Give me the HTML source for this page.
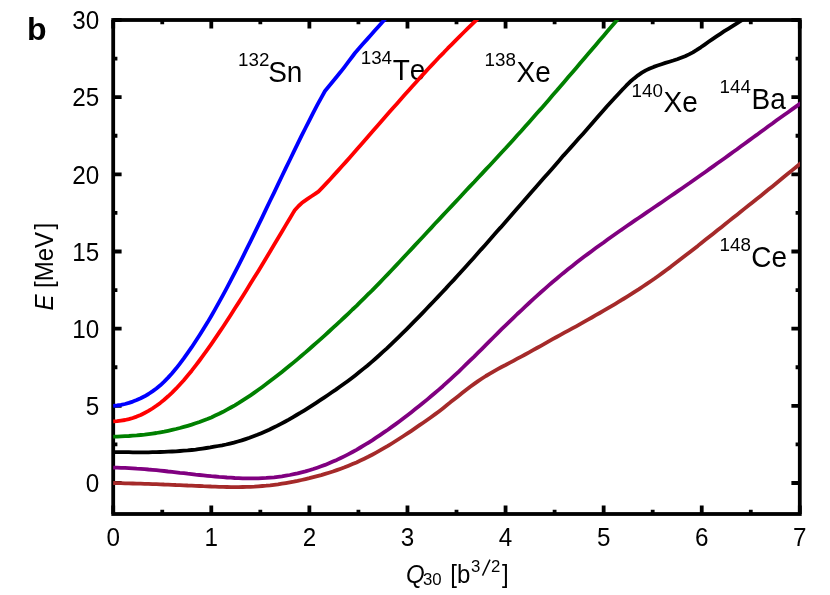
<!DOCTYPE html>
<html><head><meta charset="utf-8"><title>b</title>
<style>
html,body{margin:0;padding:0;background:#fff;}
body{width:830px;height:595px;overflow:hidden;font-family:"Liberation Sans",sans-serif;}
svg{display:block;}
text{font-family:"Liberation Sans",sans-serif;fill:#000;font-kerning:none;}
.t{font-size:24px;}
.s{font-size:16.8px;}
.l{font-size:28px;}
.ls{font-size:18.8px;}
</style></head><body>
<svg width="830" height="595" viewBox="0 0 830 595">
<rect x="0" y="0" width="830" height="595" fill="#ffffff"/>
<defs><clipPath id="c"><rect x="113.2" y="20.0" width="686.6" height="494.0"/></clipPath></defs>

<rect x="113.2" y="20.0" width="686.6" height="494.0" fill="none" stroke="#000" stroke-width="3.8" stroke-linejoin="miter"/>
<path d="M113.20 514.00V505.60M113.20 20.00V28.40M162.25 514.00V509.80M162.25 20.00V24.20M211.29 514.00V505.60M211.29 20.00V28.40M260.33 514.00V509.80M260.33 20.00V24.20M309.38 514.00V505.60M309.38 20.00V28.40M358.43 514.00V509.80M358.43 20.00V24.20M407.47 514.00V505.60M407.47 20.00V28.40M456.51 514.00V509.80M456.51 20.00V24.20M505.56 514.00V505.60M505.56 20.00V28.40M554.61 514.00V509.80M554.61 20.00V24.20M603.65 514.00V505.60M603.65 20.00V28.40M652.70 514.00V509.80M652.70 20.00V24.20M701.74 514.00V505.60M701.74 20.00V28.40M750.79 514.00V509.80M750.79 20.00V24.20M799.83 514.00V505.60M799.83 20.00V28.40M113.20 483.00H121.60M799.80 483.00H791.40M113.20 444.42H117.40M799.80 444.42H795.60M113.20 405.84H121.60M799.80 405.84H791.40M113.20 367.25H117.40M799.80 367.25H795.60M113.20 328.67H121.60M799.80 328.67H791.40M113.20 290.09H117.40M799.80 290.09H795.60M113.20 251.50H121.60M799.80 251.50H791.40M113.20 212.92H117.40M799.80 212.92H795.60M113.20 174.34H121.60M799.80 174.34H791.40M113.20 135.76H117.40M799.80 135.76H795.60M113.20 97.18H121.60M799.80 97.18H791.40M113.20 58.59H117.40M799.80 58.59H795.60M113.20 20.01H121.60M799.80 20.01H791.40" stroke="#000" stroke-width="3.8" fill="none"/>
<g style="opacity:0.999">
<text class="t" transform="translate(113.20 546.00) scale(1.010 1.070)" text-anchor="middle">0</text>
<text class="t" transform="translate(211.29 546.00) scale(1.010 1.070)" text-anchor="middle">1</text>
<text class="t" transform="translate(309.38 546.00) scale(1.010 1.070)" text-anchor="middle">2</text>
<text class="t" transform="translate(407.47 546.00) scale(1.010 1.070)" text-anchor="middle">3</text>
<text class="t" transform="translate(505.56 546.00) scale(1.010 1.070)" text-anchor="middle">4</text>
<text class="t" transform="translate(603.65 546.00) scale(1.010 1.070)" text-anchor="middle">5</text>
<text class="t" transform="translate(701.74 546.00) scale(1.010 1.070)" text-anchor="middle">6</text>
<text class="t" transform="translate(799.83 546.00) scale(1.010 1.070)" text-anchor="middle">7</text>
<text class="t" transform="translate(99.30 492.20) scale(1.010 1.070)" text-anchor="end">0</text>
<text class="t" transform="translate(99.30 415.04) scale(1.010 1.070)" text-anchor="end">5</text>
<text class="t" transform="translate(99.30 337.87) scale(1.010 1.070)" text-anchor="end">10</text>
<text class="t" transform="translate(99.30 260.70) scale(1.010 1.070)" text-anchor="end">15</text>
<text class="t" transform="translate(99.30 183.54) scale(1.010 1.070)" text-anchor="end">20</text>
<text class="t" transform="translate(99.30 106.38) scale(1.010 1.070)" text-anchor="end">25</text>
<text class="t" transform="translate(99.30 29.21) scale(1.010 1.070)" text-anchor="end">30</text>
<text x="27" y="40" font-size="32" font-weight="bold">b</text>
<text class="t" transform="translate(52.8 310.6) rotate(-90) scale(1 1.070)"><tspan font-style="italic">E</tspan> [MeV</text>
<text class="t" transform="translate(52.8 229.6) rotate(-90) scale(1 1.070)">]</text>
<text class="t" transform="translate(406.00 582.90) scale(1.000 1.070)" font-style="italic">Q</text>
<text class="s" transform="translate(423.00 584.80) scale(1.000 1.000)">30</text>
<text class="t" transform="translate(450.30 582.90) scale(1.000 1.070)">[b</text>
<text class="s" transform="translate(471.00 571.50) scale(1.000 1.000)">3</text>
<path d="M482.5 575.6L490 559.6" stroke="#000" stroke-width="1.5" fill="none"/>
<text class="s" transform="translate(491.00 571.50) scale(1.000 1.000)">2</text>
<text class="t" transform="translate(502.00 582.90) scale(1.000 1.070)">]</text>
<text class="ls" transform="translate(238.00 66.30) scale(1.000 1.000)">132</text>
<text class="l" transform="translate(268.20 82.00) scale(1.000 1.070)">Sn</text>
<text class="ls" transform="translate(360.70 64.20) scale(1.000 1.000)">134</text>
<text class="l" transform="translate(392.70 79.90) scale(1.000 1.070)">Te</text>
<text class="ls" transform="translate(484.50 66.00) scale(1.000 1.000)">138</text>
<text class="l" transform="translate(516.50 81.70) scale(1.000 1.070)">Xe</text>
<text class="ls" transform="translate(631.60 96.60) scale(1.000 1.000)">140</text>
<text class="l" transform="translate(663.50 112.30) scale(1.000 1.070)">Xe</text>
<text class="ls" transform="translate(719.60 93.30) scale(1.000 1.000)">144</text>
<text class="l" transform="translate(751.50 109.00) scale(1.000 1.070)">Ba</text>
<text class="ls" transform="translate(719.60 251.20) scale(1.000 1.000)">148</text>
<text class="l" transform="translate(751.20 266.90) scale(1.000 1.070)">Ce</text>
</g>
<g clip-path="url(#c)" fill="none" stroke-width="3.8" stroke-linejoin="round" stroke-linecap="butt">
<path d="M113.2 405.8L117.1 405.5L121.0 404.9L125.0 404.0L128.9 402.9L132.8 401.6L136.7 400.1L140.7 398.3L144.6 396.3L148.5 394.0L152.4 391.4L156.4 388.5L160.3 385.3L164.2 381.6L168.1 377.6L172.1 373.2L176.0 368.6L179.9 363.6L183.8 358.4L187.7 352.9L191.7 347.2L195.6 341.3L199.5 335.3L203.4 329.0L207.4 322.6L211.3 316.0L215.2 309.1L219.1 302.1L223.1 294.9L227.0 287.6L230.9 280.2L234.8 272.6L238.8 264.9L242.7 257.1L246.6 249.2L250.5 241.3L254.4 233.3L258.4 225.2L262.3 217.1L266.2 208.9L270.1 200.8L274.1 192.6L278.0 184.4L281.9 176.2L285.8 168.1L289.8 160.0L293.7 151.9L297.6 143.9L301.5 135.9L305.5 128.0L309.4 120.3L313.3 112.6L317.2 105.1L321.2 97.8L325.0 91.0L325.0 91.0L328.9 86.3L332.8 81.5L336.7 76.7L340.7 71.8L344.6 66.8L348.5 61.7L352.4 56.5L355.0 53.0L355.0 53.0L358.9 48.5L362.8 44.0L366.8 39.6L370.7 35.2L374.6 30.8L378.5 26.4L382.5 22.0L386.4 17.7L390.3 13.3L394.2 9.0L397.7 5.2" stroke="#0000ff"/>
<path d="M113.2 421.3L117.1 421.1L121.0 420.6L125.0 420.0L128.9 419.1L132.8 418.0L136.7 416.6L140.7 415.0L144.6 413.0L148.5 410.9L152.4 408.5L156.4 405.8L160.3 402.9L164.2 399.7L168.1 396.3L172.1 392.6L176.0 388.7L179.9 384.5L183.8 380.2L187.7 375.6L191.7 370.7L195.6 365.7L199.5 360.5L203.4 355.2L207.4 349.7L211.3 344.1L215.2 338.4L219.1 332.6L223.1 326.7L227.0 320.7L230.9 314.7L234.8 308.6L238.8 302.4L242.7 296.2L246.6 290.0L250.5 283.6L254.4 277.3L258.4 270.9L262.3 264.4L266.2 257.9L270.1 251.4L274.1 244.8L278.0 238.2L281.9 231.7L285.8 225.1L289.8 218.5L293.7 211.9L294.7 210.3L294.7 210.3L298.6 206.0L302.5 202.4L303.3 201.8L303.3 201.8L307.2 199.2L311.1 196.5L315.1 193.9L318.4 191.6L318.4 191.6L322.3 187.6L326.3 183.4L330.2 179.2L334.1 174.9L338.0 170.6L341.9 166.3L345.9 161.9L349.8 157.5L353.7 153.1L357.6 148.6L361.6 144.1L365.5 139.6L369.4 135.1L373.3 130.6L377.3 126.1L381.2 121.6L385.1 117.1L389.0 112.6L393.0 108.1L396.9 103.7L400.8 99.2L404.7 94.8L408.6 90.4L412.6 86.0L416.5 81.7L420.4 77.3L424.3 73.1L428.3 68.8L432.2 64.6L436.1 60.5L440.0 56.3L444.0 52.3L447.9 48.2L451.8 44.3L455.7 40.3L459.7 36.4L463.6 32.5L467.5 28.7L471.4 24.8L475.3 21.1L479.3 17.3L483.2 13.5L487.1 9.8L490.8 6.1" stroke="#ff0000"/>
<path d="M113.2 436.7L117.1 436.6L121.0 436.4L125.0 436.2L128.9 436.0L132.8 435.7L136.7 435.4L140.7 435.0L144.6 434.6L148.5 434.1L152.4 433.6L156.4 433.0L160.3 432.3L164.2 431.6L168.1 430.8L172.1 429.9L176.0 429.0L179.9 428.0L183.8 426.9L187.7 425.8L191.7 424.6L195.6 423.3L199.5 422.0L203.4 420.5L207.4 419.0L211.3 417.4L215.2 415.6L219.1 413.8L223.1 411.8L227.0 409.7L230.9 407.5L234.8 405.3L238.8 402.9L242.7 400.4L246.6 397.9L250.5 395.3L254.4 392.6L258.4 389.8L262.3 387.0L266.2 384.1L270.1 381.1L274.1 378.1L278.0 375.1L281.9 372.0L285.8 368.8L289.8 365.6L293.7 362.4L297.6 359.1L301.5 355.7L305.5 352.4L309.4 349.0L313.3 345.5L317.2 342.1L321.2 338.6L325.1 335.1L329.0 331.5L332.9 327.9L336.8 324.3L340.8 320.7L344.7 317.0L348.6 313.3L352.5 309.5L356.5 305.8L360.4 301.9L364.3 298.1L368.2 294.2L372.2 290.3L376.1 286.3L380.0 282.3L383.9 278.2L387.9 274.1L391.8 270.0L395.7 265.9L399.6 261.7L403.5 257.5L407.5 253.3L411.4 249.1L415.3 244.9L419.2 240.7L423.2 236.5L427.1 232.3L431.0 228.1L434.9 223.8L438.9 219.6L442.8 215.4L446.7 211.2L450.6 207.1L454.6 202.9L458.5 198.7L462.4 194.5L466.3 190.3L470.2 186.1L474.2 182.0L478.1 177.8L482.0 173.6L485.9 169.4L489.9 165.2L493.8 161.0L497.7 156.8L501.6 152.5L505.6 148.3L509.5 144.0L513.4 139.7L517.3 135.3L521.3 131.0L525.2 126.6L529.1 122.2L533.0 117.8L536.9 113.3L540.9 108.9L544.8 104.4L548.7 99.9L552.6 95.3L556.6 90.8L560.5 86.2L564.4 81.7L568.3 77.1L572.3 72.5L576.2 67.9L580.1 63.3L584.0 58.7L588.0 54.1L591.9 49.5L595.8 44.9L599.7 40.3L603.7 35.7L607.6 31.1L611.5 26.5L615.4 22.0L619.3 17.4L623.3 12.8L627.2 8.3L631.1 3.7L633.1 1.5" stroke="#008000"/>
<path d="M113.2 452.1L117.1 452.1L121.0 452.2L125.0 452.2L128.9 452.2L132.8 452.3L136.7 452.3L140.7 452.3L144.6 452.3L148.5 452.3L152.4 452.2L156.4 452.1L160.3 452.0L164.2 451.9L168.1 451.7L172.1 451.5L176.0 451.3L179.9 451.0L183.8 450.7L187.7 450.4L191.7 450.0L195.6 449.6L198.5 449.2L198.5 449.2L202.5 448.6L206.4 448.0L210.3 447.4L214.2 446.7L218.2 446.0L222.1 445.3L226.0 444.5L229.9 443.6L233.9 442.6L237.8 441.5L241.7 440.4L245.6 439.1L249.5 437.8L253.5 436.3L257.4 434.8L261.3 433.2L265.2 431.5L269.2 429.7L273.1 427.8L277.0 425.9L280.9 423.8L284.9 421.7L288.8 419.6L292.7 417.3L296.6 415.0L300.6 412.7L304.5 410.3L308.4 407.8L312.3 405.3L316.2 402.8L320.2 400.2L324.1 397.6L328.0 395.0L331.9 392.3L335.9 389.6L339.8 386.8L343.7 384.0L347.6 381.2L351.6 378.2L355.5 375.2L359.4 372.1L363.3 368.9L367.3 365.7L371.2 362.4L375.1 359.0L379.0 355.5L382.9 351.9L386.9 348.3L390.8 344.6L394.7 340.9L398.6 337.1L402.6 333.2L406.5 329.3L410.4 325.3L414.3 321.4L418.3 317.3L422.2 313.3L426.1 309.2L430.0 305.2L434.0 301.0L437.9 296.9L441.8 292.7L445.7 288.6L449.6 284.3L453.6 280.1L457.5 275.8L461.4 271.5L465.3 267.2L469.3 262.8L473.2 258.5L477.1 254.1L481.0 249.6L485.0 245.2L488.9 240.8L492.8 236.3L496.7 231.8L500.7 227.4L504.6 222.9L508.5 218.4L512.4 213.9L516.3 209.5L520.3 205.0L524.2 200.5L528.1 196.0L532.0 191.6L536.0 187.1L539.9 182.6L543.8 178.1L547.7 173.7L551.7 169.2L555.6 164.7L559.5 160.2L563.4 155.6L567.4 151.2L571.3 146.9L575.2 142.5L579.1 138.1L583.1 133.7L587.0 129.3L590.9 124.8L594.8 120.3L598.7 115.8L602.7 111.3L606.6 106.8L610.5 102.5L614.4 98.3L618.4 94.0L622.3 89.8L626.2 85.7L630.1 81.8L634.1 78.4L638.0 75.3L641.9 72.7L645.8 70.4L649.8 68.5L653.7 66.9L657.6 65.5L661.5 64.2L665.4 62.9L669.4 61.7L673.3 60.5L677.2 59.2L681.1 57.8L685.1 56.3L689.0 54.4L692.9 52.3L696.8 49.9L700.8 47.3L704.7 44.6L708.6 41.8L712.5 39.1L716.5 36.4L720.4 33.8L724.3 31.2L728.2 28.8L732.1 26.3L736.1 23.8L740.0 21.4L743.9 19.0L747.8 16.6L751.8 14.3L755.7 12.0L759.6 9.8L760.6 9.2" stroke="#000000"/>
<path d="M113.2 467.6L117.1 467.7L121.0 467.8L125.0 467.9L128.9 468.1L132.8 468.3L136.7 468.6L140.7 468.8L144.6 469.1L148.5 469.5L152.4 469.8L156.4 470.2L160.3 470.6L164.2 471.0L168.1 471.5L172.1 471.9L176.0 472.3L179.9 472.8L183.8 473.2L187.7 473.7L191.7 474.1L195.6 474.6L199.5 475.0L203.4 475.4L207.4 475.8L211.3 476.2L215.2 476.5L219.1 476.9L223.1 477.2L227.0 477.5L230.9 477.7L234.8 478.0L238.8 478.1L242.7 478.3L246.6 478.4L250.5 478.4L254.4 478.4L258.4 478.3L262.3 478.1L266.2 477.9L270.1 477.6L274.1 477.3L278.0 476.8L281.9 476.3L285.8 475.7L289.8 475.0L293.7 474.2L297.6 473.4L301.5 472.4L305.5 471.4L309.4 470.2L313.3 469.0L317.2 467.7L321.2 466.3L325.1 464.9L329.0 463.3L332.9 461.6L336.8 459.9L340.8 458.0L344.7 456.1L348.6 454.1L352.5 452.0L356.5 449.8L360.4 447.5L364.3 445.2L368.2 442.8L372.2 440.3L376.1 437.7L380.0 435.1L383.9 432.4L387.9 429.7L391.8 426.9L395.7 424.1L399.6 421.2L403.5 418.2L407.5 415.2L411.4 412.2L415.3 409.1L419.2 406.0L423.2 402.8L427.1 399.6L431.0 396.3L434.9 393.0L438.9 389.6L442.8 386.2L446.7 382.6L450.6 379.1L454.6 375.4L458.5 371.8L462.4 368.0L466.3 364.2L470.2 360.4L474.2 356.6L478.1 352.7L482.0 348.8L485.9 344.9L489.9 340.9L493.8 337.0L497.7 333.1L501.6 329.2L505.6 325.4L509.5 321.6L513.4 317.8L517.3 314.0L521.3 310.3L525.2 306.6L529.1 303.0L533.0 299.3L536.9 295.8L540.9 292.3L544.8 288.8L548.7 285.4L552.6 282.0L556.6 278.7L560.5 275.4L564.4 272.2L568.3 269.0L572.3 265.9L576.2 262.8L580.1 259.8L584.0 256.8L588.0 253.9L591.9 251.0L595.8 248.1L599.7 245.3L603.7 242.5L607.6 239.6L611.5 236.8L615.4 234.0L619.3 231.3L623.3 228.5L627.2 225.8L631.1 223.1L635.0 220.4L639.0 217.7L642.9 215.1L646.8 212.4L650.7 209.7L654.7 207.0L658.6 204.4L662.5 201.7L666.4 199.0L670.4 196.3L674.3 193.6L678.2 190.9L682.1 188.2L686.0 185.5L690.0 182.8L693.9 180.0L697.8 177.3L701.7 174.5L705.7 171.7L709.6 168.9L713.5 166.1L717.4 163.3L721.4 160.5L725.3 157.7L729.2 154.9L733.1 152.0L737.1 149.2L741.0 146.3L744.9 143.4L748.8 140.6L752.7 137.7L756.7 134.9L760.6 132.0L764.5 129.2L768.4 126.3L772.4 123.5L776.3 120.6L780.2 117.8L784.1 115.0L788.1 112.2L792.0 109.4L795.9 106.6L799.8 103.9L803.8 101.1L807.7 98.4L809.6 97.2" stroke="#800080"/>
<path d="M113.2 483.0L117.1 483.1L121.0 483.2L125.0 483.3L128.9 483.4L132.8 483.5L136.7 483.6L140.7 483.7L144.6 483.8L148.5 483.9L152.4 484.1L156.4 484.2L160.3 484.3L164.2 484.5L168.1 484.6L172.1 484.8L176.0 485.0L179.9 485.1L183.8 485.3L187.7 485.5L191.7 485.6L195.6 485.8L199.5 486.0L203.4 486.2L207.4 486.3L211.3 486.5L215.2 486.6L219.1 486.8L223.1 486.9L227.0 487.0L230.9 487.1L234.8 487.1L238.8 487.1L242.7 487.0L246.6 486.9L250.5 486.8L254.4 486.6L258.4 486.3L262.3 486.0L266.2 485.7L270.1 485.3L274.1 484.8L278.0 484.3L281.9 483.7L285.8 483.1L289.8 482.4L293.7 481.7L297.6 480.9L301.5 480.0L305.5 479.1L309.4 478.2L313.3 477.2L317.2 476.2L321.2 475.1L325.1 473.9L329.0 472.7L332.9 471.5L336.8 470.1L340.8 468.7L344.7 467.3L348.6 465.7L352.5 464.1L356.5 462.4L360.4 460.6L364.3 458.7L368.2 456.8L372.2 454.7L376.1 452.6L380.0 450.4L383.9 448.2L387.9 445.9L391.8 443.5L395.7 441.0L399.6 438.5L403.5 436.0L407.5 433.4L411.4 430.8L415.3 428.1L419.2 425.4L423.2 422.7L427.1 420.0L431.0 417.2L434.9 414.4L438.9 411.4L442.8 408.4L446.7 405.3L450.6 402.1L454.6 399.0L458.5 395.9L462.4 392.8L466.3 389.8L470.2 386.8L474.2 383.9L478.1 381.1L482.0 378.5L485.9 376.0L489.9 373.6L493.8 371.3L497.7 369.1L501.6 367.0L505.6 365.0L509.5 362.9L513.4 360.8L517.3 358.7L521.3 356.6L525.2 354.5L529.1 352.4L533.0 350.2L536.9 348.0L540.9 345.8L544.8 343.6L548.7 341.4L552.6 339.2L556.6 337.0L560.5 334.9L564.4 332.7L568.3 330.6L572.3 328.4L576.2 326.3L580.1 324.1L584.0 321.9L588.0 319.7L591.9 317.5L595.8 315.2L599.7 313.0L603.7 310.7L607.6 308.4L611.5 306.1L615.4 303.8L619.3 301.4L623.3 299.0L627.2 296.6L631.1 294.2L635.0 291.6L639.0 289.1L642.9 286.5L646.8 283.9L650.7 281.2L654.7 278.5L658.6 275.7L662.5 272.9L666.4 270.0L670.4 267.1L674.3 264.1L678.2 261.1L682.1 258.1L686.0 255.1L690.0 252.0L693.9 248.9L697.8 245.9L701.7 242.7L705.7 239.6L709.6 236.5L713.5 233.4L717.4 230.3L721.4 227.2L725.3 224.1L729.2 220.9L733.1 217.8L737.1 214.7L741.0 211.6L744.9 208.4L748.8 205.3L752.7 202.2L756.7 199.0L760.6 195.9L764.5 192.7L768.4 189.6L772.4 186.4L776.3 183.2L780.2 180.0L784.1 176.8L788.1 173.6L792.0 170.4L795.9 167.2L799.8 164.0L803.8 160.7L807.7 157.5L809.6 155.8" stroke="#a52a2a"/>
</g>
</svg></body></html>
